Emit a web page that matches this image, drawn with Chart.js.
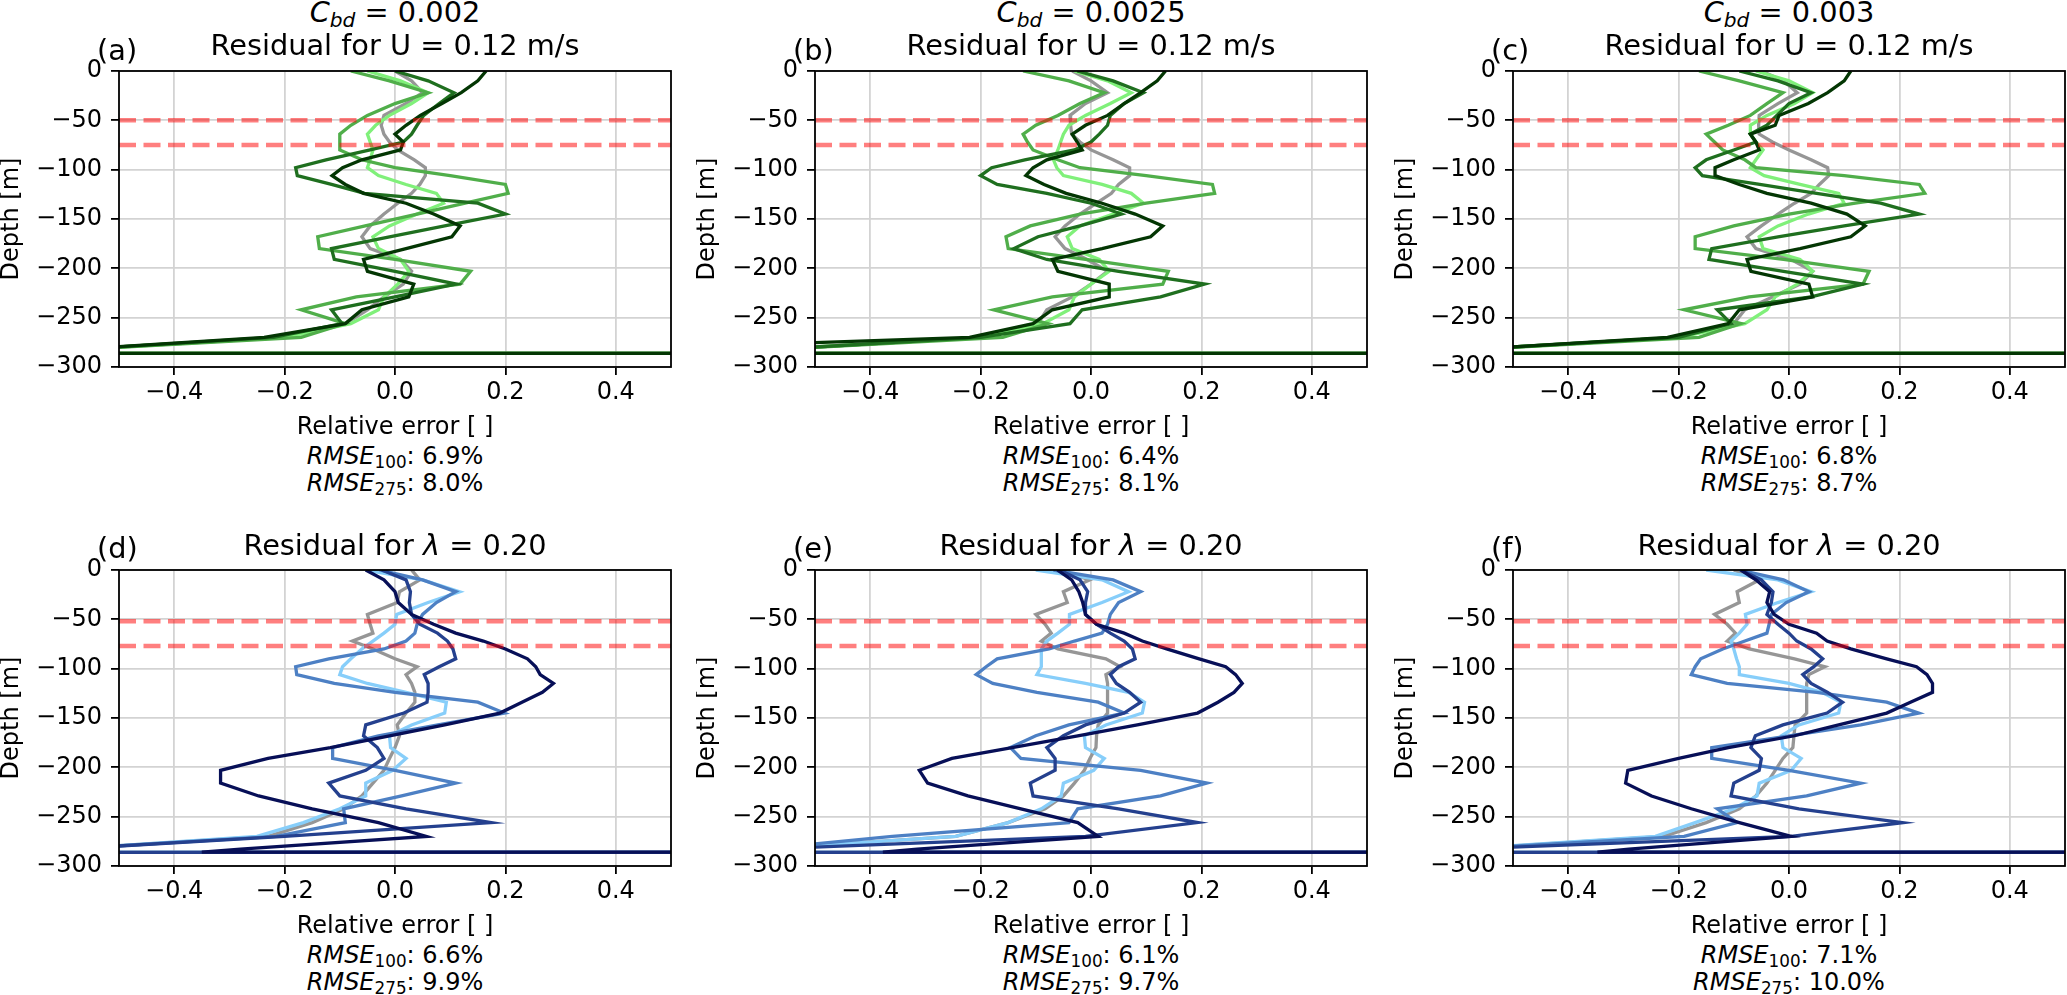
<!DOCTYPE html>
<html>
<head>
<meta charset="utf-8">
<script src="https://cdn.jsdelivr.net/npm/chart.js@4.4.1/dist/chart.umd.min.js"></script>
<style>
    body { margin: 0; width: 2067px; height: 995px; overflow: hidden; background: #fff; position: relative;
           font-family: 'DejaVu Sans', sans-serif; color: #000; }
    .box { position: absolute; }
    .txt { position: absolute; white-space: nowrap; }
    .ttl { font-size: 28.8px; line-height: 28.8px; text-align: center; width: 552px; }
    .lab { font-size: 28.8px; line-height: 28.8px; }
    .rm  { font-size: 24px; line-height: 24px; text-align: center; width: 552px; }
    .sb  { font-size: 70%; position: relative; top: 0.28em; }
</style>
</head>
<body>
<script>
// ── shared axes ──
const depths = [0, -10, -22, -33, -45, -55, -64, -72, -80, -90, -98, -106, -115, -124, -134, -145,
                -157, -168, -180, -191, -203, -216, -229, -242, -256, -270, -283, -286, -286.5];
const xTicks = [-0.4, -0.2, 0, 0.2, 0.4];
const yTicks = [0, -50, -100, -150, -200, -250, -300];
const redTop = [-50, -75];
const redBottom = [-52, -77];

// ── panel texts ──
const panelLetters = ['(a)', '(b)', '(c)', '(d)', '(e)', '(f)'];
const cbdValues = ['0.002', '0.0025', '0.003'];
const rmse100 = ['6.9%', '6.4%', '6.8%', '6.6%', '6.1%', '7.1%'];
const rmse275 = ['8.0%', '8.1%', '8.7%', '9.9%', '9.7%', '10.0%'];

// ── (a) ──
const aGray    = [0.0, 0.03, 0.05, 0.02, -0.02, -0.025, -0.02, -0.01, 0.005, 0.035, 0.055, 0.055, 0.045, 0.03, 0.005, -0.02, -0.045, -0.06, -0.045, 0.01, 0.03, 0.015, -0.02, -0.05, -0.09, -0.2, -0.6, -40, 40];
const aLight   = [-0.05, 0.01, 0.06, 0.03, -0.01, -0.035, -0.05, -0.045, -0.04, -0.045, -0.05, -0.03, 0.02, 0.075, 0.088, 0.04, -0.01, -0.04, -0.03, 0.01, 0.025, 0.005, -0.02, -0.03, -0.08, -0.2, -0.6, -40, 40];
const aMid     = [-0.08, -0.01, 0.06, 0.0, -0.05, -0.08, -0.1, -0.1, -0.1, -0.06, 0.0, 0.1, 0.2, 0.205, 0.127, 0.04, -0.054, -0.14, -0.137, 0.0, 0.137, 0.118, -0.07, -0.17, -0.09, -0.17, -0.6, -40, 40];
const aDark    = [0.0, 0.06, 0.107, 0.08, 0.052, 0.04, 0.03, 0.015, -0.045, -0.125, -0.18, -0.177, -0.115, -0.055, 0.15, 0.2, 0.09, -0.01, -0.115, -0.11, 0.0, 0.111, 0.0, -0.115, -0.096, -0.22, -0.6, -40, 40];
const aDarkest = [0.165, 0.15, 0.12, 0.085, 0.046, 0.02, 0.0, 0.015, 0.01, -0.06, -0.095, -0.114, -0.09, -0.057, 0.02, 0.07, 0.118, 0.103, 0.02, -0.057, -0.05, 0.034, 0.025, -0.06, -0.09, -0.237, -0.6, -40, 40];

// ── (b) ──
const bGray    = [-0.034, 0.0, 0.03, -0.01, -0.038, -0.037, -0.035, -0.02, 0.0, 0.04, 0.07, 0.07, 0.05, 0.037, 0.01, -0.02, -0.047, -0.065, -0.047, -0.007, 0.03, 0.0, -0.034, -0.08, -0.096, -0.2, -0.6, -40, 40];
const bLight   = [-0.03, 0.03, 0.073, 0.035, -0.01, -0.04, -0.05, -0.055, -0.06, -0.068, -0.062, -0.05, 0.02, 0.073, 0.095, 0.04, -0.02, -0.043, -0.034, 0.015, 0.033, 0.0, -0.03, -0.04, -0.087, -0.2, -0.6, -40, 40];
const bMid     = [-0.123, -0.04, 0.024, -0.02, -0.06, -0.1, -0.123, -0.115, -0.105, -0.06, -0.02, 0.1, 0.22, 0.224, 0.1, -0.02, -0.11, -0.154, -0.15, -0.01, 0.14, 0.13, -0.07, -0.176, -0.078, -0.16, -0.6, -40, 40];
const bDark    = [-0.025, 0.04, 0.095, 0.06, 0.035, 0.03, 0.015, 0.0, -0.03, -0.12, -0.18, -0.2, -0.17, -0.08, 0.0, 0.055, -0.02, -0.096, -0.14, -0.08, 0.05, 0.206, 0.126, -0.016, -0.038, -0.2, -0.6, -40, 40];
const bDarkest = [0.135, 0.12, 0.09, 0.06, 0.03, -0.01, -0.034, -0.025, -0.016, -0.08, -0.105, -0.118, -0.085, -0.045, 0.02, 0.08, 0.13, 0.108, 0.02, -0.07, -0.06, 0.033, 0.033, -0.07, -0.105, -0.22, -0.9, -40, 40];

// ── (c) ──
const cGray    = [-0.05, -0.01, 0.015, -0.02, -0.054, -0.055, -0.054, -0.03, 0.0, 0.04, 0.07, 0.072, 0.055, 0.04, 0.01, -0.02, -0.05, -0.076, -0.06, 0.004, 0.043, 0.02, -0.03, -0.08, -0.1, -0.2, -0.6, -40, 40];
const cLight   = [-0.06, 0.0, 0.043, 0.01, -0.04, -0.07, -0.07, -0.06, -0.047, -0.06, -0.07, -0.045, 0.02, 0.09, 0.1, 0.035, -0.02, -0.054, -0.047, 0.02, 0.043, 0.015, -0.025, -0.04, -0.08, -0.2, -0.6, -40, 40];
const cMid     = [-0.163, -0.09, -0.011, -0.04, -0.07, -0.11, -0.15, -0.135, -0.12, -0.08, -0.06, 0.1, 0.236, 0.246, 0.12, 0.0, -0.1, -0.17, -0.17, -0.01, 0.145, 0.134, -0.072, -0.19, -0.087, -0.163, -0.6, -40, 40];
const cDark    = [-0.09, -0.02, 0.04, 0.0, -0.022, -0.04, -0.07, -0.06, -0.1, -0.15, -0.17, -0.157, -0.053, 0.05, 0.166, 0.236, 0.1, -0.02, -0.14, -0.145, -0.01, 0.134, 0.04, -0.13, -0.105, -0.2, -0.6, -40, 40];
const cDarkest = [0.112, 0.1, 0.07, 0.035, -0.018, -0.025, -0.07, -0.06, -0.054, -0.1, -0.134, -0.134, -0.09, -0.04, 0.04, 0.105, 0.138, 0.112, 0.02, -0.076, -0.069, 0.036, 0.043, -0.09, -0.11, -0.22, -0.6, -40, 40];

// ── (d) ──
const dGray  = [0.03, 0.045, 0.008, 0.004, -0.05, -0.045, -0.04, -0.077, -0.04, 0.0, 0.04, 0.02, 0.03, 0.036, 0.036, 0.02, 0.004, 0.008, 0.0, -0.01, -0.02, -0.04, -0.06, -0.093, -0.15, -0.23, -0.6, -40, 40];
const dLight = [-0.053, 0.05, 0.117, 0.06, 0.003, 0.0, -0.02, -0.04, -0.06, -0.08, -0.095, -0.1, -0.05, 0.02, 0.093, 0.09, 0.03, -0.01, -0.008, 0.02, -0.004, -0.053, -0.053, -0.1, -0.166, -0.25, -0.6, -40, 40];
const dMid   = [-0.028, 0.05, 0.11, 0.075, 0.05, 0.04, 0.036, 0.02, -0.02, -0.12, -0.18, -0.178, -0.11, 0.0, 0.15, 0.198, 0.078, -0.03, -0.113, -0.113, 0.0, 0.11, 0.012, -0.093, -0.09, -0.215, -0.6, -40, 40];
const dDark  = [-0.024, 0.02, 0.028, 0.026, 0.03, 0.045, 0.077, 0.095, 0.105, 0.11, 0.08, 0.053, 0.06, 0.06, 0.058, 0.016, -0.053, -0.057, -0.032, -0.02, -0.053, -0.12, -0.1, 0.02, 0.174, -0.2, -0.6, -40, 40];
const dNavy  = [-0.053, -0.02, 0.0, 0.006, 0.03, 0.07, 0.11, 0.16, 0.2, 0.24, 0.255, 0.263, 0.287, 0.267, 0.23, 0.19, 0.09, -0.01, -0.117, -0.23, -0.316, -0.316, -0.247, -0.15, -0.03, 0.057, -0.28, -0.35, 40];

// ── (e) ──
const eGray  = [-0.06, -0.002, -0.05, -0.043, -0.1, -0.083, -0.072, -0.09, -0.06, 0.027, 0.053, 0.027, 0.03, 0.03, 0.03, 0.03, 0.013, 0.01, 0.009, -0.002, -0.012, -0.03, -0.05, -0.083, -0.15, -0.245, -0.6, -40, 40];
const eLight = [-0.1, 0.02, 0.068, 0.02, -0.039, -0.039, -0.06, -0.08, -0.09, -0.09, -0.09, -0.098, -0.01, 0.068, 0.097, 0.093, 0.027, -0.012, -0.01, 0.024, 0.005, -0.05, -0.054, -0.09, -0.15, -0.245, -0.6, -40, 40];
const eMid   = [-0.068, 0.04, 0.09, 0.05, 0.035, 0.03, 0.02, -0.03, -0.076, -0.17, -0.19, -0.208, -0.178, -0.098, 0.013, 0.06, -0.04, -0.1, -0.146, -0.127, 0.09, 0.21, 0.126, -0.024, -0.04, -0.36, -0.6, -40, 40];
const eDark  = [-0.057, -0.02, -0.006, -0.01, -0.01, 0.01, 0.035, 0.06, 0.075, 0.08, 0.05, 0.035, 0.046, 0.07, 0.09, 0.06, -0.01, -0.05, -0.08, -0.065, -0.065, -0.11, -0.105, 0.05, 0.193, -0.01, -0.6, -40, 40];
const eNavy  = [-0.061, -0.035, -0.022, -0.015, -0.01, 0.01, 0.06, 0.093, 0.137, 0.196, 0.244, 0.262, 0.274, 0.259, 0.23, 0.193, 0.084, -0.024, -0.143, -0.252, -0.311, -0.296, -0.223, -0.127, -0.024, 0.013, -0.315, -0.377, 40];

// ── (f) ──
const fGray  = [-0.1, -0.054, -0.094, -0.09, -0.135, -0.112, -0.097, -0.112, -0.072, 0.01, 0.065, 0.036, 0.032, 0.032, 0.032, 0.032, 0.011, 0.009, 0.007, -0.011, -0.025, -0.04, -0.06, -0.09, -0.15, -0.227, -0.6, -40, 40];
const fLight = [-0.15, -0.02, 0.04, -0.02, -0.079, -0.076, -0.09, -0.105, -0.1, -0.095, -0.09, -0.09, 0.0, 0.06, 0.094, 0.09, 0.018, -0.014, -0.011, 0.022, 0.004, -0.054, -0.058, -0.1, -0.17, -0.242, -0.6, -40, 40];
const fMid   = [-0.09, -0.01, 0.036, -0.005, -0.032, -0.036, -0.04, -0.08, -0.12, -0.16, -0.17, -0.177, -0.112, 0.05, 0.177, 0.235, 0.13, 0.0, -0.14, -0.14, 0.0, 0.13, 0.032, -0.13, -0.094, -0.19, -0.6, -40, 40];
const fDark  = [-0.087, -0.05, -0.029, -0.032, -0.04, -0.02, 0.0, 0.014, 0.04, 0.061, 0.045, 0.025, 0.04, 0.07, 0.097, 0.069, -0.011, -0.061, -0.069, -0.05, -0.054, -0.1, -0.105, 0.018, 0.206, 0.004, -0.6, -40, 40];
const fNavy  = [-0.087, -0.06, -0.035, -0.04, -0.027, 0.0, 0.05, 0.069, 0.112, 0.177, 0.231, 0.25, 0.26, 0.26, 0.22, 0.177, 0.09, 0.01, -0.11, -0.2, -0.292, -0.296, -0.249, -0.177, -0.09, 0.004, -0.29, -0.347, 40];

const greens = ['#969696', '#80f07a', '#50ae4a', '#1f6f1f', '#033603'];
const blues  = ['#969696', '#87cefa', '#4d80c4', '#24408e', '#070f57'];

const panelSeries = [
    [aGray, aLight, aMid, aDark, aDarkest],
    [bGray, bLight, bMid, bDark, bDarkest],
    [cGray, cLight, cMid, cDark, cDarkest],
    [dGray, dLight, dMid, dDark, dNavy],
    [eGray, eLight, eMid, eDark, eNavy],
    [fGray, fLight, fMid, fDark, fNavy]
];

// ── layout (pixels) ──
const colLeft = [119, 815, 1513];
const rowTop  = [70, 569];
const plotW = 552, plotH = 297;
const yAxisW = 119, xAxisH = 73, padTop = 20, padRight = 6;
const FONT = "'DejaVu Sans', sans-serif";

function minus(s) { return s.replace('-', '\u2212'); }

// top + right spines (Chart.js only draws left/bottom)
const framePlugin = {
    id: 'frame',
    afterDatasetsDraw(chart) {
        const a = chart.chartArea, ctx = chart.ctx;
        ctx.save();
        ctx.strokeStyle = '#000';
        ctx.lineWidth = 1.8;
        ctx.strokeRect(a.left, a.top, a.right - a.left, a.bottom - a.top);
        ctx.restore();
    }
};

function addText(cls, left, top, html) {
    const el = document.createElement('div');
    el.className = 'txt ' + cls;
    el.style.left = left + 'px';
    el.style.top = top + 'px';
    el.innerHTML = html;
    document.body.appendChild(el);
}

panelSeries.forEach(function (series, p) {
    const col = p % 3, row = Math.floor(p / 3);
    const left = colLeft[col], top = rowTop[row];
    const colors = row === 0 ? greens : blues;
    const reds = row === 0 ? redTop : redBottom;

    const box = document.createElement('div');
    box.className = 'box';
    box.style.left = (left - yAxisW) + 'px';
    box.style.top = (top - padTop) + 'px';
    box.style.width = (yAxisW + plotW + padRight) + 'px';
    box.style.height = (padTop + plotH + xAxisH) + 'px';
    const cv = document.createElement('canvas');
    box.appendChild(cv);
    document.body.appendChild(box);

    // first dataset is painted last → reds on top, then darkest … gray
    const datasets = [];
    reds.forEach(function (d) {
        datasets.push({
            data: [{ x: -0.5, y: d }, { x: 0.5, y: d }],
            borderColor: 'rgba(255,0,0,0.5)', borderWidth: 4.5, borderDash: [17, 7.5]
        });
    });
    for (let i = series.length - 1; i >= 0; i--) {
        datasets.push({
            data: series[i].map((v, k) => ({ x: v, y: depths[k] })),
            borderColor: colors[i], borderWidth: 3.3
        });
    }

    new Chart(cv, {
        type: 'scatter',
        data: { datasets: datasets.map(d => Object.assign({ showLine: true, pointRadius: 0, tension: 0, fill: false }, d)) },
        options: {
            responsive: true,
            maintainAspectRatio: false,
            animation: false,
            events: [],
            layout: { padding: { top: padTop, right: padRight, left: 0, bottom: 0 } },
            plugins: { legend: { display: false }, tooltip: { enabled: false } },
            scales: {
                x: {
                    type: 'linear', min: -0.5, max: 0.5,
                    afterBuildTicks: s => { s.ticks = xTicks.map(v => ({ value: v })); },
                    afterFit: s => { s.height = xAxisH; },
                    grid: { color: '#d3d3d3', lineWidth: 1.8, tickColor: '#000', tickLength: 8 },
                    border: { display: false },
                    ticks: {
                        color: '#000', padding: 6, maxRotation: 0, autoSkip: false,
                        font: { family: FONT, size: 24, lineHeight: 1 },
                        callback: v => minus(Number(v).toFixed(1))
                    },
                    title: { display: true, text: 'Relative error [ ]', color: '#000', padding: 0,
                             font: { family: FONT, size: 24, lineHeight: 1 } }
                },
                y: {
                    type: 'linear', min: -300, max: 0,
                    afterBuildTicks: s => { s.ticks = yTicks.map(v => ({ value: v })); },
                    afterFit: s => { s.width = yAxisW; },
                    grid: { color: '#d3d3d3', lineWidth: 1.8, tickColor: '#000', tickLength: 8 },
                    border: { display: false },
                    ticks: {
                        color: '#000', padding: 9,
                        font: { family: FONT, size: 24, lineHeight: 1 },
                        callback: v => minus(String(v))
                    },
                    title: { display: true, text: 'Depth [m]', color: '#000', padding: 0,
                             font: { family: FONT, size: 24, lineHeight: 1 } }
                }
            }
        },
        plugins: [framePlugin]
    });

    // titles, panel letter, RMSE lines
    if (row === 0) {
        addText('ttl', left, -2.4, '<i>C</i><span class="sb"><i>bd</i></span> = ' + cbdValues[col]);
        addText('ttl', left, 30.6, 'Residual for U = 0.12 m/s');
    } else {
        addText('ttl', left, top - 38.4, 'Residual for <i>λ</i> = 0.20');
    }
    addText('lab', left - 22, top - (row === 0 ? 34.4 : 35.4), panelLetters[p]);
    const bottom = top + plotH;
    addText('rm', left, bottom + 97 - 20.3, '<i>RMSE</i><span class="sb">100</span>: ' + rmse100[p]);
    addText('rm', left, bottom + 124 - 20.3, '<i>RMSE</i><span class="sb">275</span>: ' + rmse275[p]);
});
</script>
</body>
</html>
